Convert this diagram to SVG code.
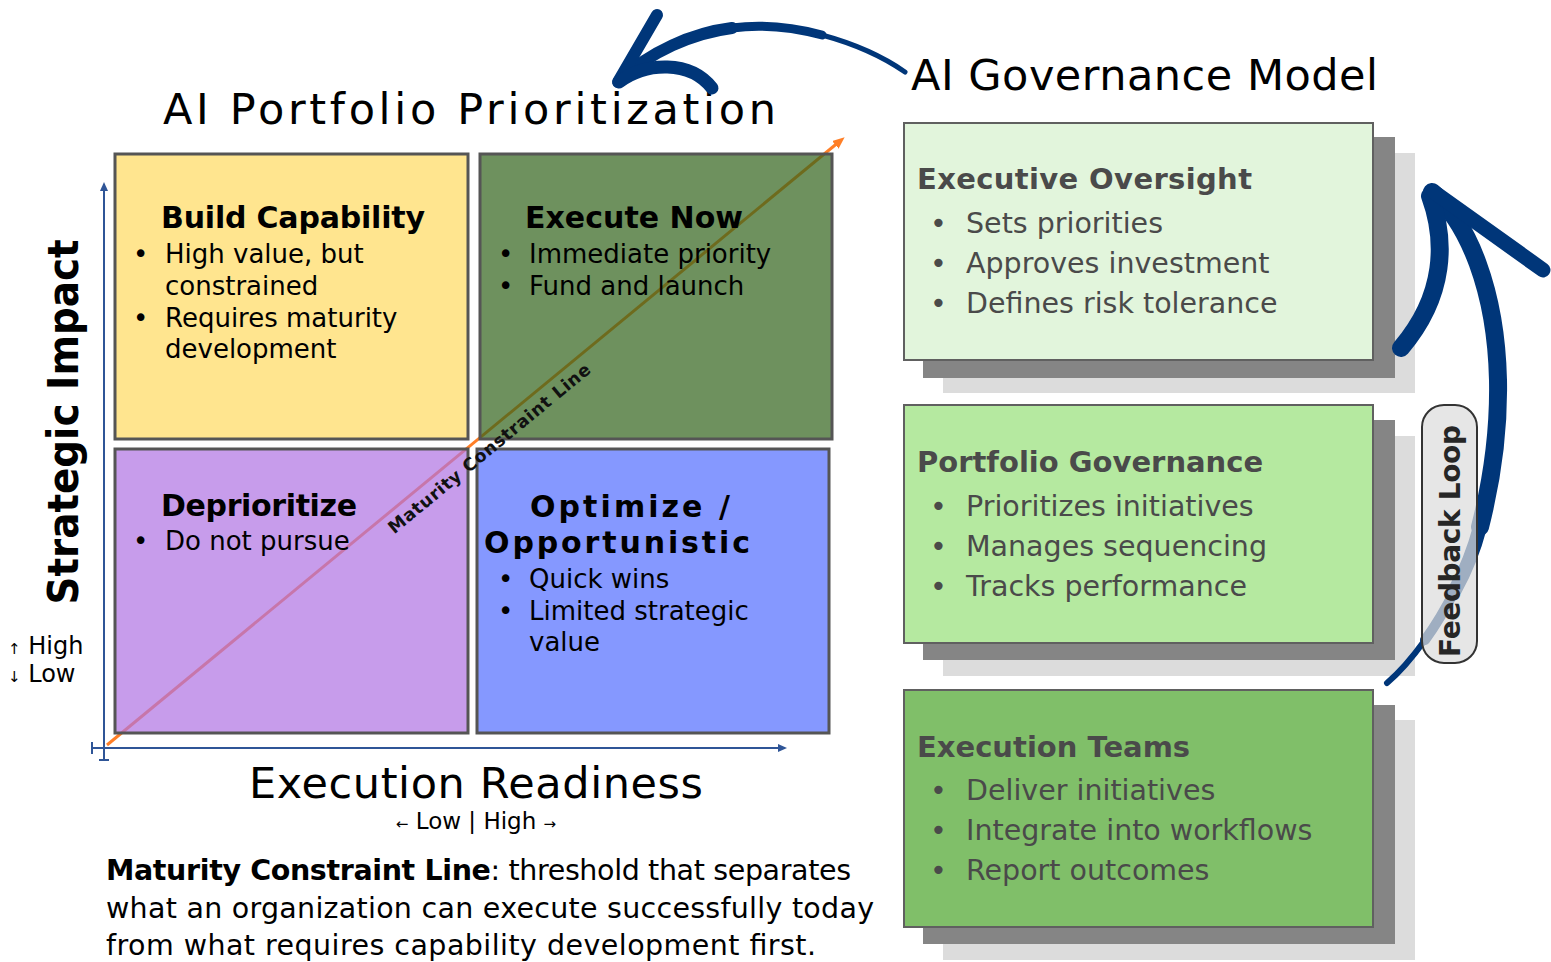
<svg xmlns="http://www.w3.org/2000/svg" width="1551" height="962" viewBox="0 0 1551 962">
<defs>
<style>
text { font-family: 'DejaVu Sans', 'Liberation Sans', sans-serif; }
.quad { stroke: #555555; stroke-width: 3; fill-opacity: 0.7; }
.qt { font-weight: bold; font-size: 30px; fill: #000; }
.qb { font-size: 26px; fill: #000; }
.box { stroke: #606060; stroke-width: 2; }
.sh1 { fill: #858585; }
.sh2 { fill: #DCDCDC; }
.bt { font-weight: bold; font-size: 29px; fill: #4a4a4a; }
.bb { font-size: 28.5px; fill: #4a4a4a; }
.axis { stroke: #2F5597; stroke-width: 2; fill: none; }
.navy { stroke: #003679; fill: none; stroke-linecap: round; stroke-linejoin: round; }
.title { font-size: 43px; fill: #000; }
</style>
<marker id="axArrow" markerWidth="9" markerHeight="8" refX="7" refY="4" orient="auto" markerUnits="userSpaceOnUse">
<path d="M0,0 L9,4 L0,8 Z" fill="#2F5597"/>
</marker>
<marker id="orArrow" markerWidth="12" markerHeight="10" refX="6" refY="5" orient="auto" markerUnits="userSpaceOnUse">
<path d="M0,0 L12,5 L0,10 Z" fill="#FF7F27"/>
</marker>
</defs>
<rect width="1551" height="962" fill="#ffffff"/>

<!-- titles -->
<text id="title-left" class="title" x="163" y="124" font-size="42" textLength="613" lengthAdjust="spacing">AI Portfolio Prioritization</text>
<text id="title-right" class="title" x="911" y="90" textLength="467" lengthAdjust="spacing">AI Governance Model</text>

<!-- maturity line under quadrants -->
<g id="maturity-line">
<line x1="107" y1="745" x2="840" y2="141" stroke="#FF7F27" stroke-width="3" marker-end="url(#orArrow)"/>
</g>

<!-- quadrants -->
<g id="q-build">
<rect class="quad" x="115" y="154" width="353" height="285" fill="#FFDA5F"/>
<text class="qt" x="161" y="228" textLength="264">Build Capability</text>
<text class="qb" x="133" y="263">•</text>
<text class="qb" x="165" y="263">High value, but</text>
<text class="qb" x="165" y="295">constrained</text>
<text class="qb" x="133" y="327">•</text>
<text class="qb" x="165" y="327">Requires maturity</text>
<text class="qb" x="165" y="358">development</text>
</g>
<g id="q-execute">
<rect class="quad" x="480" y="154" width="352" height="285" fill="#306319"/>
<text class="qt" x="525" y="228" textLength="218">Execute Now</text>
<text class="qb" x="498" y="263">•</text>
<text class="qb" x="529" y="263">Immediate priority</text>
<text class="qb" x="498" y="295">•</text>
<text class="qb" x="529" y="295">Fund and launch</text>
</g>
<g id="q-deprioritize">
<rect class="quad" x="115" y="449" width="353" height="284" fill="#AF72E2"/>
<text class="qt" x="161" y="516" textLength="196">Deprioritize</text>
<text class="qb" x="133" y="550">•</text>
<text class="qb" x="165" y="550">Do not pursue</text>
</g>
<g id="q-optimize">
<rect class="quad" x="477" y="449" width="352" height="284" fill="#516CFF"/>
<text class="qt" x="530" y="517" textLength="200" lengthAdjust="spacing">Optimize /</text>
<text class="qt" x="484" y="553" textLength="266" lengthAdjust="spacing">Opportunistic</text>
<text class="qb" x="498" y="588">•</text>
<text class="qb" x="529" y="588">Quick wins</text>
<text class="qb" x="498" y="620">•</text>
<text class="qb" x="529" y="620">Limited strategic</text>
<text class="qb" x="529" y="651">value</text>
</g>

<!-- line label -->
<text id="maturity-label" transform="translate(488,447) rotate(-39.5)" x="0" y="8" text-anchor="middle" font-size="17.5" font-weight="bold" fill="#111" textLength="256" lengthAdjust="spacing">Maturity Constraint Line</text>

<!-- axes -->
<g id="axes">
<line class="axis" x1="104" y1="760" x2="104" y2="184" marker-end="url(#axArrow)"/>
<line class="axis" x1="99" y1="760" x2="109" y2="760"/>
<line class="axis" x1="92" y1="748" x2="785" y2="748" marker-end="url(#axArrow)"/>
<line class="axis" x1="92" y1="742" x2="92" y2="754"/>
</g>

<text id="y-label" transform="translate(78,422) rotate(-90)" text-anchor="middle" font-size="43" font-weight="bold" fill="#000" textLength="365" lengthAdjust="spacingAndGlyphs">Strategic Impact</text>
<text x="8" y="654" font-size="24" fill="#000"><tspan font-size="15">↑</tspan> High</text>
<text x="8" y="682" font-size="24" fill="#000"><tspan font-size="15">↓</tspan> Low</text>

<text id="x-label" class="title" x="249" y="798" textLength="454" lengthAdjust="spacing">Execution Readiness</text>
<text x="476" y="829" text-anchor="middle" font-size="23" fill="#000"><tspan font-size="15">←</tspan> Low | High <tspan font-size="15">→</tspan></text>

<g id="definition">
<text x="106" y="880" font-size="28.5" fill="#000" textLength="745" lengthAdjust="spacing"><tspan font-weight="bold">Maturity Constraint Line</tspan>: threshold that separates</text>
<text x="106" y="918" font-size="28.5" fill="#000" textLength="768" lengthAdjust="spacing">what an organization can execute successfully today</text>
<text x="106" y="955" font-size="28.5" fill="#000" textLength="710" lengthAdjust="spacing">from what requires capability development first.</text>
</g>

<!-- governance boxes -->
<g id="gov-executive">
<rect class="sh2" x="943" y="153" width="472" height="240"/>
<rect class="sh1" x="923" y="137" width="472" height="241"/>
<rect class="box" x="904" y="123" width="469" height="237" fill="#E2F5DC"/>
<text class="bt" x="917" y="189" textLength="335">Executive Oversight</text>
<text class="bb" x="930" y="233">•</text>
<text class="bb" x="966" y="233">Sets priorities</text>
<text class="bb" x="930" y="273">•</text>
<text class="bb" x="966" y="273">Approves investment</text>
<text class="bb" x="930" y="313">•</text>
<text class="bb" x="966" y="313">Defines risk tolerance</text>
</g>
<g id="gov-portfolio">
<rect class="sh2" x="943" y="436" width="472" height="240"/>
<rect class="sh1" x="923" y="420" width="472" height="240"/>
<rect class="box" x="904" y="405" width="469" height="238" fill="#B5E9A0"/>
<text class="bt" x="917" y="472">Portfolio Governance</text>
<text class="bb" x="930" y="516">•</text>
<text class="bb" x="966" y="516">Prioritizes initiatives</text>
<text class="bb" x="930" y="556">•</text>
<text class="bb" x="966" y="556">Manages sequencing</text>
<text class="bb" x="930" y="596">•</text>
<text class="bb" x="966" y="596">Tracks performance</text>
</g>
<g id="gov-execution">
<rect class="sh2" x="943" y="720" width="472" height="240"/>
<rect class="sh1" x="923" y="705" width="472" height="239"/>
<rect class="box" x="904" y="690" width="469" height="237" fill="#80BF69"/>
<text class="bt" x="917" y="757">Execution Teams</text>
<text class="bb" x="930" y="800">•</text>
<text class="bb" x="966" y="800">Deliver initiatives</text>
<text class="bb" x="930" y="840">•</text>
<text class="bb" x="966" y="840">Integrate into workflows</text>
<text class="bb" x="930" y="880">•</text>
<text class="bb" x="966" y="880">Report outcomes</text>
</g>

<!-- connectors -->
<g id="connectors">
<g id="arrow-top">
<path class="navy" stroke-width="5" d="M905,72 C885,58 855,44 822,35"/>
<path class="navy" stroke-width="9" d="M822,35 C792,27 762,24 732,28"/>
<path class="navy" stroke-width="12" d="M732,28 C692,33 650,52 620,80"/>
<path class="navy" stroke-width="12" d="M618,82 L657,15"/>
<path class="navy" stroke-width="13" d="M619,82 C646,62 690,60 712,88"/>
</g>
<g id="arrow-feedback">
<path class="navy" stroke-width="18" d="M1432,192 C1468,222 1496,290 1498,380 C1499,430 1492,480 1480,527"/>
<path class="navy" stroke-width="14" d="M1480,527 C1474,550 1466,570 1455,590"/>
<path class="navy" stroke-width="10" d="M1455,590 C1446,608 1436,625 1425,640"/>
<path class="navy" stroke-width="6" d="M1425,640 C1412,658 1400,672 1387,683"/>
<path class="navy" stroke-width="18" d="M1430,196 C1446,240 1446,295 1401,348"/>
<path class="navy" stroke-width="15" d="M1434,192 L1543,270"/>
</g>
</g>

<g id="feedback-loop">
<rect x="1422" y="405" width="55" height="258" rx="22" fill="#DDDDDD" fill-opacity="0.72" stroke="#333333" stroke-width="2"/>
<text transform="translate(1460,541) rotate(-90)" text-anchor="middle" font-size="28" font-weight="bold" fill="#262626" textLength="232" lengthAdjust="spacing">Feedback Loop</text>
</g>
</svg>
